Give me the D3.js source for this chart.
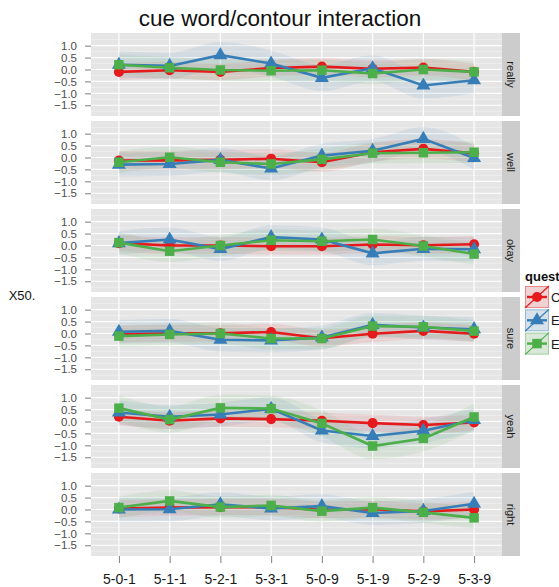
<!DOCTYPE html>
<html>
<head>
<meta charset="utf-8">
<script src="https://cdn.jsdelivr.net/npm/d3@7"></script>
<style>
  body { margin: 0; background: #fff; }
  svg { display: block; font-family: "Liberation Sans", Arial, sans-serif; }
</style>
</head>
<body>
<svg id="chart" width="559" height="587"></svg>
<script>
// categories along x and facet rows
const contours = ["5-0-1", "5-1-1", "5-2-1", "5-3-1", "5-0-9", "5-1-9", "5-2-9", "5-3-9"];
const cueWords = ["really", "well", "okay", "sure", "yeah", "right"];
const yTicks = [-1.5, -1.0, -0.5, 0.0, 0.5, 1.0];
const legendLabels = ["C", "E", "E"];

// series values, one array per facet row
const redValues = [
  [-0.10, -0.03, -0.10, 0.06, 0.12, 0.03, 0.08, -0.10],
  [-0.13, -0.12, -0.10, -0.05, -0.20, 0.22, 0.36, 0.18],
  [0.10, 0.00, 0.00, -0.03, -0.03, 0.04, 0.01, 0.05],
  [-0.03, 0.01, 0.01, 0.06, -0.20, -0.01, 0.11, -0.01],
  [0.20, 0.03, 0.13, 0.10, 0.03, -0.07, -0.15, -0.04],
  [0.04, 0.08, 0.10, 0.10, -0.01, 0.01, -0.08, 0.00]
];
const blueValues = [
  [0.20, 0.15, 0.60, 0.25, -0.35, 0.05, -0.67, -0.45],
  [-0.30, -0.27, -0.10, -0.46, 0.08, 0.28, 0.78, -0.02],
  [0.10, 0.25, -0.15, 0.35, 0.25, -0.33, -0.14, -0.16],
  [0.07, 0.11, -0.26, -0.29, -0.17, 0.36, 0.25, 0.18],
  [0.38, 0.20, 0.29, 0.53, -0.38, -0.61, -0.39, 0.06],
  [0.00, 0.01, 0.22, 0.04, 0.14, -0.15, -0.06, 0.24]
];
const greenValues = [
  [0.20, 0.07, -0.02, -0.05, -0.03, -0.17, 0.00, -0.10],
  [-0.20, 0.01, -0.20, -0.27, -0.08, 0.18, 0.20, 0.22],
  [0.12, -0.24, 0.00, 0.22, 0.18, 0.25, -0.02, -0.36],
  [-0.11, -0.04, 0.00, -0.21, -0.21, 0.31, 0.28, 0.10],
  [0.56, 0.08, 0.57, 0.54, -0.08, -1.03, -0.71, 0.19],
  [0.08, 0.36, 0.10, 0.17, -0.07, 0.08, -0.12, -0.35]
];
// estimated half-widths of the shaded bands, per facet row
const redBand = [0.35, 0.40, 0.35, 0.35, 0.35, 0.35];
const blueBand = [0.55, 0.50, 0.50, 0.50, 0.50, 0.50];
const greenBand = [0.45, 0.45, 0.45, 0.45, 0.55, 0.45];

const series = [
  { color: "#E41A1C", values: redValues, band: redBand, shape: d3.symbolCircle, size: 80 },
  { color: "#377EB8", values: blueValues, band: blueBand, shape: d3.symbolTriangle, size: 85 },
  { color: "#4DAF4A", values: greenValues, band: greenBand, shape: d3.symbolSquare, size: 90 }
];

const svg = d3.select("#chart");
const left = 91, right = 502, stripW = 18;
const panelH = 83, firstTop = 33, gap = 5;

const x = d3.scalePoint().domain(contours).range([left, right]).padding(0.55);

svg.append("text")
  .attr("x", 280).attr("y", 26)
  .attr("text-anchor", "middle")
  .attr("font-size", 22.5)
  .attr("fill", "#111")
  .text("cue word/contour interaction");

svg.append("text")
  .attr("x", 22).attr("y", 300)
  .attr("text-anchor", "middle")
  .attr("font-size", 13)
  .attr("fill", "#111")
  .text("X50.");

cueWords.forEach((word, row) => {
  const top = firstTop + row * (panelH + gap);
  const y = d3.scaleLinear().domain([-1.95, 1.53]).range([top + panelH, top]);
  const g = svg.append("g");

  g.append("rect")
    .attr("x", left).attr("y", top)
    .attr("width", right - left).attr("height", panelH)
    .attr("fill", "#E5E5E5");

  // minor grid
  const minor = d3.range(-1.75, 1.5, 0.5);
  g.selectAll(".minor").data(minor).join("line")
    .attr("x1", left).attr("x2", right)
    .attr("y1", d => y(d)).attr("y2", d => y(d))
    .attr("stroke", "#F2F2F2").attr("stroke-width", 0.6);

  g.selectAll(".hgrid").data(yTicks).join("line")
    .attr("x1", left).attr("x2", right)
    .attr("y1", d => y(d)).attr("y2", d => y(d))
    .attr("stroke", "#fff").attr("stroke-width", 1.2);

  g.selectAll(".vgrid").data(contours).join("line")
    .attr("x1", d => x(d)).attr("x2", d => x(d))
    .attr("y1", top).attr("y2", top + panelH)
    .attr("stroke", "#fff").attr("stroke-width", 1.2);

  // strip
  g.append("rect")
    .attr("x", right).attr("y", top)
    .attr("width", stripW).attr("height", panelH)
    .attr("fill", "#CCCCCC");
  g.append("text")
    .attr("transform", `translate(${right + stripW / 2 - 4},${top + panelH / 2}) rotate(90)`)
    .attr("text-anchor", "middle")
    .attr("font-size", 11)
    .attr("fill", "#1a1a1a")
    .text(word);

  // y axis
  const ax = g.append("g")
    .attr("transform", `translate(${left},0)`)
    .call(d3.axisLeft(y).tickValues(yTicks).tickFormat(d3.format(".1f")).tickSize(6).tickPadding(8));
  ax.select(".domain").remove();
  ax.selectAll("line").attr("stroke", "#7F7F7F");
  ax.selectAll("text").attr("font-size", 11.5).attr("fill", "#4D4D4D")
    .attr("font-family", "Liberation Sans, Arial, sans-serif");

  // bands
  series.forEach(s => {
    const vals = s.values[row];
    const hw = s.band[row];
    const area = d3.area()
      .x((d, i) => x(contours[i]))
      .y0(d => y(d - hw))
      .y1(d => y(d + hw))
      .curve(d3.curveMonotoneX);
    g.append("path").datum(vals)
      .attr("d", area)
      .attr("fill", s.color).attr("fill-opacity", 0.1);
  });

  // lines and points
  series.forEach(s => {
    const vals = s.values[row];
    const line = d3.line().x((d, i) => x(contours[i])).y(d => y(d));
    g.append("path").datum(vals)
      .attr("d", line)
      .attr("fill", "none").attr("stroke", s.color).attr("stroke-width", 2.6);
    g.selectAll(null).data(vals).join("path")
      .attr("transform", (d, i) => `translate(${x(contours[i])},${y(d)})`)
      .attr("d", d3.symbol().type(s.shape).size(s.size))
      .attr("fill", s.color);
  });
});

// x axis under last panel
const lastBottom = firstTop + 5 * (panelH + gap) + panelH;
const xa = svg.append("g")
  .attr("transform", `translate(0,${lastBottom})`)
  .call(d3.axisBottom(x).tickSize(7).tickPadding(11));
xa.select(".domain").remove();
xa.selectAll("line").attr("stroke", "#7F7F7F");
xa.selectAll("text").attr("font-size", 14).attr("fill", "#1a1a1a")
  .attr("font-family", "Liberation Sans, Arial, sans-serif");

// legend
const lg = svg.append("g");
lg.append("text")
  .attr("x", 525).attr("y", 281)
  .attr("font-size", 13).attr("font-weight", "bold")
  .attr("fill", "#111")
  .text("quest");
series.forEach((s, i) => {
  const ky = 286 + i * 23.3;
  const k = lg.append("g").attr("transform", `translate(525,${ky})`);
  k.append("rect").attr("width", 24).attr("height", 22).attr("fill", "#F2F2F2");
  k.append("rect").attr("x", 0.5).attr("y", 0.5).attr("width", 23).attr("height", 21)
    .attr("fill", s.color).attr("fill-opacity", 0.15)
    .attr("stroke", s.color).attr("stroke-opacity", 0.45).attr("stroke-width", 1);
  k.append("line").attr("x1", 0).attr("y1", 22).attr("x2", 24).attr("y2", 0)
    .attr("stroke", s.color).attr("stroke-width", 1.2);
  k.append("line").attr("x1", 2).attr("y1", 11).attr("x2", 22).attr("y2", 11)
    .attr("stroke", s.color).attr("stroke-width", 2.4);
  k.append("path").attr("transform", "translate(12,11)")
    .attr("d", d3.symbol().type(s.shape).size(s.size))
    .attr("fill", s.color);
  lg.append("text")
    .attr("x", 551).attr("y", ky + 16)
    .attr("font-size", 13).attr("font-weight", "normal").attr("fill", "#1a1a1a")
    .text(legendLabels[i]);
});
</script>
</body>
</html>
